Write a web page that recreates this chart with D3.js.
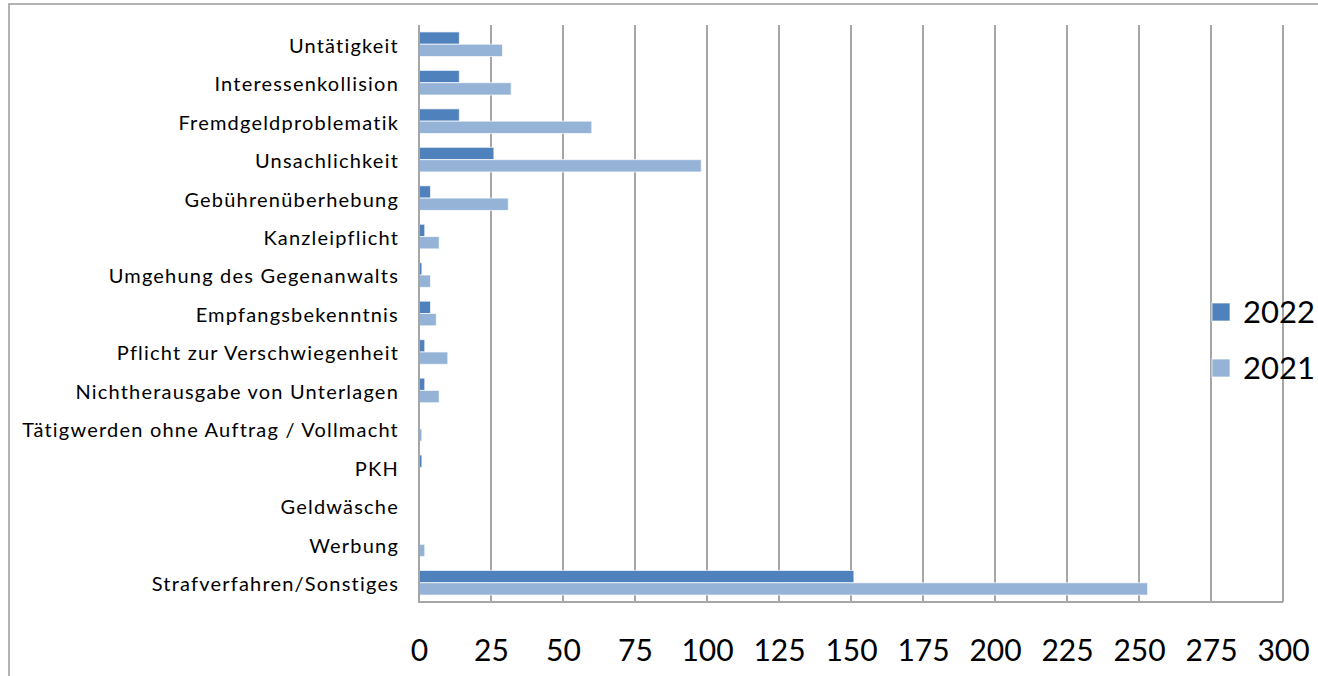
<!DOCTYPE html>
<html>
<head>
<meta charset="utf-8">
<script src="https://cdn.jsdelivr.net/npm/d3@7"></script>
<style>
  body { margin: 0; background: #fff; }
  svg { display: block; font-family: Lato, 'Open Sans', sans-serif; }
</style>
</head>
<body>
<svg class="chart" width="1318" height="676"></svg>
<script>
const categories = [
  'Untätigkeit',
  'Interessenkollision',
  'Fremdgeldproblematik',
  'Unsachlichkeit',
  'Gebührenüberhebung',
  'Kanzleipflicht',
  'Umgehung des Gegenanwalts',
  'Empfangsbekenntnis',
  'Pflicht zur Verschwiegenheit',
  'Nichtherausgabe von Unterlagen',
  'Tätigwerden ohne Auftrag / Vollmacht',
  'PKH',
  'Geldwäsche',
  'Werbung',
  'Strafverfahren/Sonstiges'
]
const values2022 = [14, 14, 14, 26, 4, 2, 1, 4, 2, 2, 0, 1, 0, 0, 151]
const values2021 = [29, 32, 60, 98, 31, 7, 4, 6, 10, 7, 1, 0, 0, 2, 253]
const seriesNames = ['2022', '2021']
const xTicks = [0, 25, 50, 75, 100, 125, 150, 175, 200, 225, 250, 275, 300]

const colors = { '2022': '#4f81bd', '2021': '#95b3d7' }
const gridColor = '#a6a6a6'

const svg = d3.select('.chart')
const margin = { top: 25, left: 419, right: 35, bottom: 74 }
const width = 1318 - margin.left - margin.right
const height = 676 - margin.top - margin.bottom

const data = categories.map((c, i) => ({ cat: c, '2022': values2022[i], '2021': values2021[i] }))

// outer chart border
svg.append('rect')
  .attr('x', 9).attr('y', 4)
  .attr('width', 1330).attr('height', 700)
  .attr('fill', 'none')
  .attr('stroke', '#9a9a9a')
  .attr('stroke-width', 1.5)

const x = d3.scaleLinear().domain([0, 300]).range([0, width])
const y = d3.scaleBand().domain(categories).range([0, height])
  .paddingInner(0.36).paddingOuter(0.18)
const ySub = d3.scaleBand().domain(seriesNames).range([0, y.bandwidth()])

const g = svg.append('g')
  .attr('transform', 'translate(' + margin.left + ',' + margin.top + ')')

// vertical gridlines
g.append('g')
  .selectAll('line')
  .data(xTicks)
  .enter().append('line')
  .attr('x1', d => x(d)).attr('x2', d => x(d))
  .attr('y1', 0).attr('y2', height)
  .attr('stroke', gridColor)
  .attr('stroke-width', 2)

// bottom axis line
g.append('line')
  .attr('x1', 0).attr('x2', width)
  .attr('y1', height).attr('y2', height)
  .attr('stroke', gridColor)
  .attr('stroke-width', 2)

// bars
const groups = g.selectAll('.grp')
  .data(data)
  .enter().append('g')
  .attr('class', 'grp')
  .attr('transform', d => 'translate(0,' + y(d.cat) + ')')

groups.selectAll('rect')
  .data(d => seriesNames.map(s => ({ s, v: d[s] })))
  .enter().append('rect')
  .filter(d => d.v > 0)
  .attr('x', x(0))
  .attr('y', d => ySub(d.s))
  .attr('width', d => x(d.v) - x(0))
  .attr('height', ySub.bandwidth())
  .attr('fill', d => colors[d.s])
  .attr('stroke', 'rgba(255,255,255,0.7)')
  .attr('stroke-width', 1)

// category labels
const yAxis = g.append('g')
  .call(d3.axisLeft(y).tickSize(0).tickPadding(20))
yAxis.select('.domain').remove()
yAxis.selectAll('text')
  .style('font-size', '20px')
  .style('letter-spacing', '1.2px')
  .style('font-family', 'Lato, sans-serif')
  .attr('dy', '0.42em')
  .attr('fill', '#000')

// x axis tick labels
const xAxis = g.append('g')
  .attr('transform', 'translate(0,' + height + ')')
  .call(d3.axisBottom(x).tickValues(xTicks).tickSize(0).tickPadding(38))
xAxis.select('.domain').remove()
xAxis.selectAll('text')
  .style('font-size', '30px')
  .style('font-family', 'Lato, sans-serif')
  .attr('fill', '#000')

// left axis line
g.append('line')
  .attr('x1', 0).attr('x2', 0)
  .attr('y1', 0).attr('y2', height + 1)
  .attr('stroke', gridColor)
  .attr('stroke-width', 2)

// legend
const legend = svg.append('g')
  .attr('transform', 'translate(1212,303)')
seriesNames.forEach((s, i) => {
  const row = legend.append('g').attr('transform', 'translate(0,' + i * 56 + ')')
  row.append('rect')
    .attr('width', 18).attr('height', 18)
    .attr('fill', colors[s])
    .attr('stroke', 'rgba(255,255,255,0.7)')
  row.append('text')
    .attr('x', 31).attr('y', 9)
    .attr('dy', '0.36em')
    .style('font-size', '31px')
    .text(s)
})
</script>
</body>
</html>
